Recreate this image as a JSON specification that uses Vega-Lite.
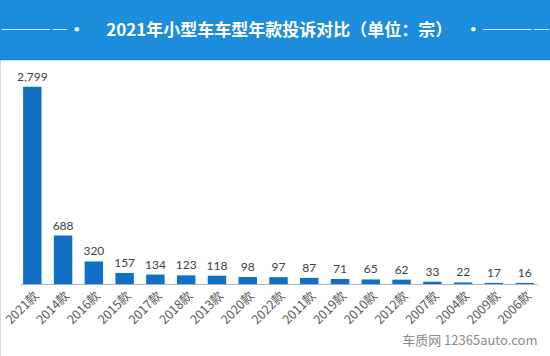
{
  "$schema": "https://vega.github.io/schema/vega-lite/v6.json",
  "width": 550,
  "height": 296,
  "autosize": {"type": "none"},
  "padding": {"top": 60, "left": 0, "right": 0, "bottom": 0},
  "background": "#1b8ddc",
  "title": {
    "text": "――――• 　2021年小型车车型年款投诉对比（单位：宗）　 •――――",
    "color": "white",
    "font": "Noto Sans CJK SC",
    "fontSize": 17,
    "fontWeight": "bold",
    "anchor": "middle",
    "frame": "group",
    "offset": 20
  },
  "config": {"view": {"fill": "white", "stroke": "#d9d9d9"}},
  "data": {
    "values": [
      {"model": "2021款", "count": 2799},
      {"model": "2014款", "count": 688},
      {"model": "2016款", "count": 320},
      {"model": "2015款", "count": 157},
      {"model": "2017款", "count": 134},
      {"model": "2018款", "count": 123},
      {"model": "2013款", "count": 118},
      {"model": "2020款", "count": 98},
      {"model": "2022款", "count": 97},
      {"model": "2011款", "count": 87},
      {"model": "2019款", "count": 71},
      {"model": "2010款", "count": 65},
      {"model": "2012款", "count": 62},
      {"model": "2007款", "count": 33},
      {"model": "2004款", "count": 22},
      {"model": "2009款", "count": 17},
      {"model": "2006款", "count": 16}
    ]
  },
  "encoding": {
    "x": {
      "field": "model",
      "type": "nominal",
      "sort": null,
      "scale": {"range": [20, 537], "paddingInner": 0.4, "paddingOuter": 0.1},
      "axis": {
        "orient": "bottom",
        "offset": -72,
        "labelAngle": -45,
        "labelFont": "Noto Sans CJK SC",
        "labelFontSize": 12.5,
        "labelColor": "#595959",
        "labelPadding": 5,
        "ticks": false,
        "domainColor": "#aab4c0",
        "title": "车质网 12365auto.com",
        "titleAnchor": "end",
        "titleFont": "Noto Sans CJK SC",
        "titleFontSize": 13,
        "titleFontWeight": "normal",
        "titleColor": "#8c8c8c",
        "titlePadding": 8
      }
    }
  },
  "layer": [
    {
      "mark": {"type": "bar", "color": "#1170c4"},
      "encoding": {
        "y": {
          "field": "count",
          "type": "quantitative",
          "scale": {"domain": [-1021, 3178], "nice": false, "zero": false},
          "axis": null
        },
        "y2": {"datum": 0}
      }
    },
    {
      "mark": {"type": "text", "baseline": "alphabetic", "dy": -6, "font": "Lato", "fontSize": 12, "color": "#404040"},
      "encoding": {
        "y": {"field": "count", "type": "quantitative"},
        "text": {"field": "count", "type": "quantitative", "format": ","}
      }
    }
  ]
}
